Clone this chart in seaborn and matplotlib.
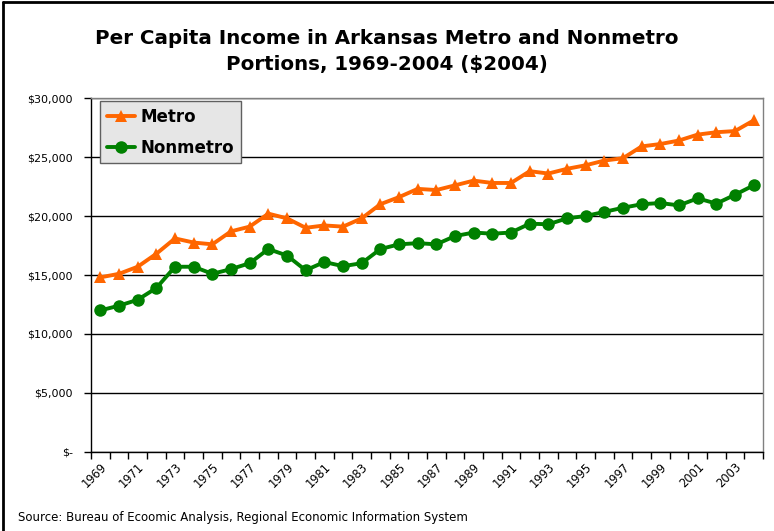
import matplotlib
matplotlib.use("Agg")
import matplotlib.pyplot as plt
import matplotlib.ticker as mticker
from matplotlib.lines import Line2D
import seaborn as sns
import pandas as pd
import numpy as np

# -----------------------------
# Data
# -----------------------------
years = list(range(1969, 2005))

metro = [14800, 15100, 15700, 16800, 18100, 17750, 17600, 18700, 19100, 20200,
         19800, 19000, 19200, 19100, 19800, 21000, 21600, 22300, 22200, 22600,
         23000, 22800, 22800, 23800, 23600, 24000, 24300, 24700, 24900, 25900,
         26100, 26400, 26900, 27100, 27200, 28100]

nonmetro = [12000, 12400, 12900, 13900, 15700, 15700, 15100, 15500, 16000, 17200,
            16650, 15400, 16100, 15750, 16000, 17200, 17600, 17700, 17600, 18300,
            18600, 18500, 18600, 19350, 19300, 19800, 20000, 20350, 20700, 21000,
            21100, 20900, 21500, 21050, 21800, 22600]

colors = {"Metro": "#FF6600", "Nonmetro": "#008000"}
markers = {"Metro": "^", "Nonmetro": "o"}

df = pd.DataFrame({
    "idx": list(range(len(years))) * 2,
    "value": metro + nonmetro,
    "series": ["Metro"] * len(years) + ["Nonmetro"] * len(years),
})

# -----------------------------
# Style
# -----------------------------
sns.set_theme(style="white")
plt.rcParams["font.family"] = ["DejaVu Sans"]
plt.rcParams["text.color"] = "black"
plt.rcParams["xtick.color"] = "black"
plt.rcParams["ytick.color"] = "black"

fig = plt.figure(figsize=(7.74, 5.31), dpi=100)
ax = fig.add_axes([0.1176, 0.1488, 0.8682, 0.6666])

sns.lineplot(data=df, x="idx", y="value", hue="series", style="series",
             palette=colors, markers=markers, dashes=False,
             linewidth=2.8, markersize=9, markeredgewidth=0, ax=ax)

# -----------------------------
# Axes
# -----------------------------
ax.set_xlim(-0.5, len(years) - 0.5)
ax.set_ylim(0, 30000)
ax.set_yticks(np.arange(0, 30001, 5000))
ax.yaxis.set_major_formatter(mticker.FuncFormatter(
    lambda v, p: "$-" if v == 0 else f"${v:,.0f}"))
ax.tick_params(axis="y", labelsize=8, length=5, width=1, color="black",
               labelcolor="black", direction="out", left=True, pad=8)
ax.grid(axis="y", color="black", linewidth=1)
ax.set_axisbelow(True)

# tick marks at the category boundaries, labels on every 2nd category
ax.set_xticks(np.arange(-0.5, len(years), 1), minor=True)
ax.set_xticks(np.arange(0, len(years), 2))
ax.set_xticklabels([str(y) for y in years[::2]], rotation=45, ha="right",
                   rotation_mode="anchor", fontsize=8.3)
ax.tick_params(axis="x", which="major", length=0, pad=6, labelcolor="black")
ax.tick_params(axis="x", which="minor", length=5, width=1, color="black",
               direction="out", bottom=True)
ax.set_xlabel("")
ax.set_ylabel("")

for side in ["left", "bottom"]:
    ax.spines[side].set_color("black")
    ax.spines[side].set_linewidth(1)
for side in ["top", "right"]:
    ax.spines[side].set_color("#808080")
    ax.spines[side].set_linewidth(1)

# -----------------------------
# Legend
# -----------------------------
leg = ax.legend(loc="upper left", bbox_to_anchor=(0.009, 1.0), fancybox=False,
                framealpha=1, facecolor="#E6E6E6", edgecolor="#606060",
                prop={"weight": "bold", "size": 12}, handlelength=1.7,
                borderpad=0.4, labelspacing=0.75, handletextpad=0.3,
                borderaxespad=0.2)
leg.get_frame().set_linewidth(1)
for t in leg.get_texts():
    t.set_color("black")

# -----------------------------
# Titles and border
# -----------------------------
fig.text(0.5, 0.903, "Per Capita Income in Arkansas Metro and Nonmetro\nPortions, 1969-2004 ($2004)",
         ha="center", va="center", fontsize=14.3, fontweight="bold",
         linespacing=1.5, color="black")
fig.text(18 / 774, 1 - 517 / 531, "Source: Bureau of Ecoomic Analysis, Regional Economic Information System",
         ha="left", va="center", fontsize=8.5, color="black")

fig.add_artist(Line2D([3 / 774, 3 / 774], [0, 1 - 2 / 531], color="black", linewidth=2))
fig.add_artist(Line2D([3 / 774, 1], [1 - 2 / 531, 1 - 2 / 531], color="black", linewidth=2))

fig.savefig("out.png", dpi=100)
plt.close(fig)
